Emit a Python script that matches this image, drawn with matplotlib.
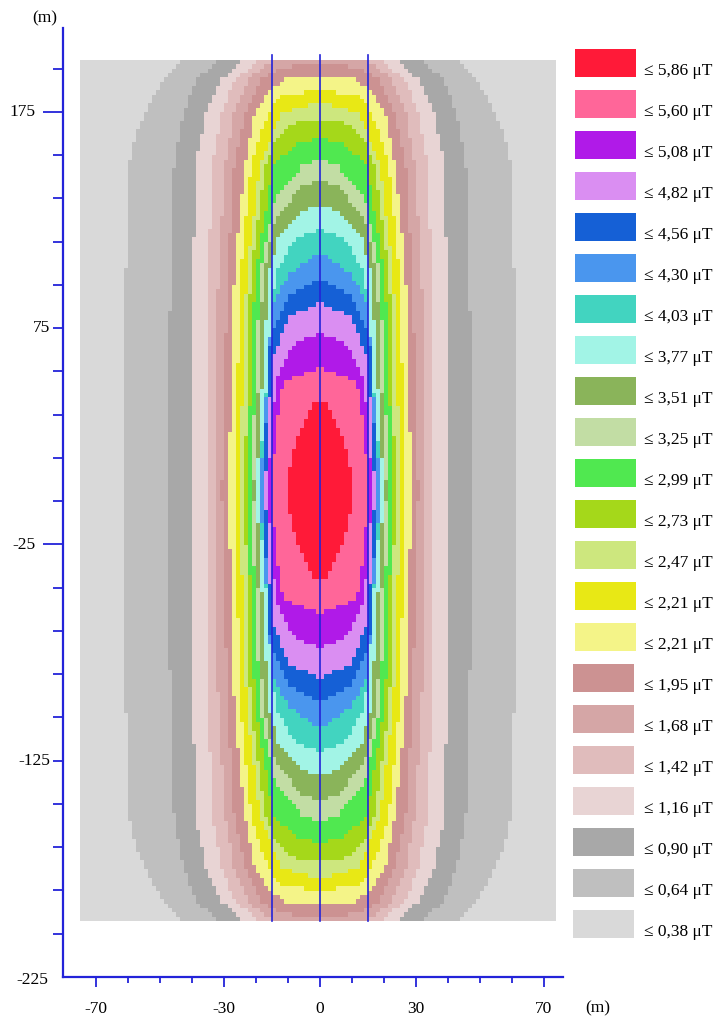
import numpy as np
import matplotlib
matplotlib.use("Agg")
import matplotlib.pyplot as plt
from matplotlib.path import Path
from matplotlib.colors import ListedColormap
from matplotlib.patches import Rectangle

# ---------------------------------------------------------------------------
# Field classes (lowest to highest) and their colours
# ---------------------------------------------------------------------------
level_labels = ["≤ 0,38 μT", "≤ 0,64 μT", "≤ 0,90 μT", "≤ 1,16 μT", "≤ 1,42 μT",
                "≤ 1,68 μT", "≤ 1,95 μT", "≤ 2,21 μT", "≤ 2,21 μT", "≤ 2,47 μT",
                "≤ 2,73 μT", "≤ 2,99 μT", "≤ 3,25 μT", "≤ 3,51 μT", "≤ 3,77 μT",
                "≤ 4,03 μT", "≤ 4,30 μT", "≤ 4,56 μT", "≤ 4,82 μT", "≤ 5,08 μT",
                "≤ 5,60 μT", "≤ 5,86 μT"]
level_colors = ["#D9D9D9", "#BFBFBF", "#A8A8A8", "#E8D4D4", "#E0BCBC",
                "#D5A6A6", "#CC9292", "#F4F488", "#E8E815", "#CDE77E",
                "#A5D81A", "#50E850", "#C2DDA4", "#8AB45A", "#A2F4E6",
                "#42D4C0", "#4A96EE", "#1560D6", "#DA8EF2", "#B01AE8",
                "#FF6699", "#FF1A38"]

# Outer edge of each class region (first quadrant, x = lateral distance,
# y = distance along the line, metres). The map is mirror-symmetric.
edge_064 = [(60.7, 0), (60.7, 100), (59.7, 150), (57.5, 165), (54.7, 175), (49.0, 190), (43.7, 199), (43.7, 260)]
edge_090 = [(47.7, 0), (46.7, 100), (45.6, 150), (42.7, 175), (38.5, 190), (31.2, 199), (31.2, 260)]
edge_116 = [(40.6, 0), (39.6, 100), (38.9, 150), (35.7, 175), (30.7, 190), (24.0, 199), (24.0, 260)]
edge_142 = [(35.6, 0), (34.9, 100), (33.6, 150), (30.7, 175), (26.6, 190), (18.7, 199), (18.7, 260)]
edge_168 = [(32.8, 0), (31.8, 100), (29.7, 150), (26.8, 175), (22.4, 190), (14.7, 199), (14.7, 260)]
edge_195 = [(30.7, 0), (28.9, 100), (26.8, 150), (23.4, 175), (18.2, 190), (12.0, 195), (5.0, 197), (0, 197.5)]
edge_221a = [(28.6, 0), (26.8, 100), (23.6, 150), (20.3, 175), (15.0, 186), (10.9, 190), (0, 191.5)]
edge_221b = [(26.8, 0), (24.8, 100), (21.6, 150), (16.2, 175), (12.0, 182), (0, 185.5)]
edge_247 = [(25.3, 0), (22.9, 100), (18.8, 150), (14.0, 168), (12.0, 175), (0, 179.5)]
edge_273 = [(23.6, 0), (21.7, 100), (17.2, 150), (14.0, 162), (8.0, 170), (0, 172)]
edge_299 = [(22.9, 0), (20.3, 100), (14.5, 150), (8.0, 160), (0, 163)]
edge_325 = [(21.6, 0), (18.8, 100), (14.0, 135), (5.7, 150), (0, 154)]
edge_351 = [(20.8, 0), (17.7, 100), (14.0, 125), (6.0, 140), (0, 144)]
edge_377 = [(20.0, 0), (16.0, 100), (13.0, 118), (6.0, 129), (0, 132)]
edge_403 = [(19.3, 0), (14.0, 100), (8.0, 116), (0, 121)]
edge_430 = [(18.8, 0), (15.0, 85), (9.9, 100), (0, 110)]
edge_456 = [(18.0, 0), (15.5, 70), (10.0, 90), (0, 98)]
edge_482 = [(17.2, 0), (15.0, 60), (10.0, 80), (0, 87)]
edge_508 = [(16.3, 0), (14.0, 50), (9.0, 67), (0, 73)]
edge_560 = [(15.5, 0), (12.5, 45), (10.9, 51), (0, 57)]
edge_586 = [(10.5, 0), (10.0, 8), (8.0, 20), (5.0, 32), (2.3, 40), (0, 42)]

class_edges = [edge_064, edge_090, edge_116, edge_142, edge_168, edge_195,
               edge_221a, edge_221b, edge_247, edge_273, edge_299, edge_325,
               edge_351, edge_377, edge_403, edge_430, edge_456, edge_482,
               edge_508, edge_560, edge_586]

# Conductor axes (m)
conductor_x = [-15, 0, 15]

# Axis ticks and labels
y_labels = [175, 75, -25, -125, -225]
y_long_ticks = [175, -25]
y_tick_pos = list(range(-205, 200, 20))
x_labels = [-70, -30, 0, 30, 70]
x_tick_pos = list(range(-70, 71, 10))

# Calculation grid (1.25 m x 2 m cells)
x_min, x_max, dx = -75.0, 73.75, 1.25
y_min, y_max, dy = -199.0, 199.0, 2.0
nx = int(round((x_max - x_min) / dx))
ny = int(round((y_max - y_min) / dy))

x_c = x_min + (np.arange(nx) + 0.5) * dx
y_c = y_min + (np.arange(ny) + 0.5) * dy
XX, YY = np.meshgrid(x_c, y_c)
pts = np.column_stack([np.abs(XX).ravel(), np.abs(YY).ravel()])


def region_path(edge):
    """Closed outline of one class region, padded across the symmetry axes."""
    verts = [(-1.0, -1.0), (edge[0][0], -1.0)] + list(edge)
    last_x, last_y = verts[-1]
    if last_x != 0:
        verts.append((0, last_y))
    verts.append((-1.0, verts[-1][1]))
    verts.append((-1.0, -1.0))
    return Path(verts)


cls = np.zeros(XX.size, dtype=int)
for k, edge in enumerate(class_edges, start=1):
    cls[region_path(edge).contains_points(pts)] = k
cls = cls.reshape(XX.shape)

# ---------------------------------------------------------------------------
W, H, DPI = 719, 1021, 100
fig = plt.figure(figsize=(W / DPI, H / DPI), dpi=DPI)
serif = ["Liberation Serif", "DejaVu Serif"]
axis_blue = "#2323D9"

ax_l, ax_r, ax_b, ax_t = 63, 563, 977, 28
ax = fig.add_axes([ax_l / W, 1 - ax_b / H, (ax_r - ax_l) / W, (ax_b - ax_t) / H])
ax.set_xlim((ax_l - 320) / 3.2, (ax_r - 320) / 3.2)
ax.set_ylim(-225, 175 + (112 - ax_t) / 2.1625)

cmap = ListedColormap(level_colors)
ax.imshow(cls, origin="lower", extent=(x_min, x_max, y_min, y_max), cmap=cmap,
          vmin=-0.5, vmax=len(level_colors) - 0.5, interpolation="nearest",
          aspect="auto", zorder=1)

for cx in conductor_x:
    ax.plot([cx, cx], [y_min, 201.5], color=axis_blue, lw=1.2, zorder=3)

for side in ("top", "right"):
    ax.spines[side].set_visible(False)
for side in ("left", "bottom"):
    ax.spines[side].set_color(axis_blue)
    ax.spines[side].set_linewidth(1.6)

# y axis: long ticks every 200 m, short ticks every 20 m
ax.set_yticks(y_long_ticks)
ax.set_yticks([v for v in y_tick_pos if v not in y_long_ticks], minor=True)
ax.set_yticklabels([""] * len(y_long_ticks))
ax.tick_params(axis="y", which="major", length=14.4, width=1.3, color=axis_blue)
ax.tick_params(axis="y", which="minor", length=7.2, width=1.3, color=axis_blue)

x_major = x_labels
ax.set_xticks(x_major)
ax.set_xticks([v for v in x_tick_pos if v not in x_major], minor=True)
ax.set_xticklabels([str(v) for v in x_major])
ax.tick_params(axis="x", which="major", length=7, width=1.3, color=axis_blue, pad=10)
ax.tick_params(axis="x", which="minor", length=4.5, width=1.3, color=axis_blue)
for lab in ax.get_xticklabels():
    lab.set_fontfamily(serif)
    lab.set_fontsize(12.5)

# Overlay in pixel coordinates for the legend, y labels and unit labels
ov = fig.add_axes([0, 0, 1, 1], facecolor="none")
ov.set_xlim(0, W)
ov.set_ylim(H, 0)
ov.axis("off")

to_px = ax.transData + ov.transData.inverted()
for v in y_labels:
    py = to_px.transform((0, v))[1]
    if v in y_long_ticks:
        right = 35.5
    elif v == -225:
        right = 48
        py += 3
    else:
        right = 50
    ov.text(right, py, str(v), fontfamily=serif, fontsize=12.5,
            ha="right", va="center")

ov.text(45, 18, "(m)", fontfamily=serif, fontsize=12.5, ha="center", va="center")
ov.text(598, 1008, "(m)", fontfamily=serif, fontsize=12.5, ha="center", va="center")

n = len(level_labels)
for i in range(n):
    k = n - 1 - i
    top = 49.3 + 41.0 * i
    left = 574.7 if i < 15 else 572.7
    ov.add_patch(Rectangle((left, top), 61.3, 28, facecolor=level_colors[k],
                           edgecolor="none"))
    ov.text(644, top + 25.5, level_labels[k], fontfamily=serif, fontsize=12.5,
            ha="left", va="baseline")

fig.savefig("out.png", dpi=DPI)
